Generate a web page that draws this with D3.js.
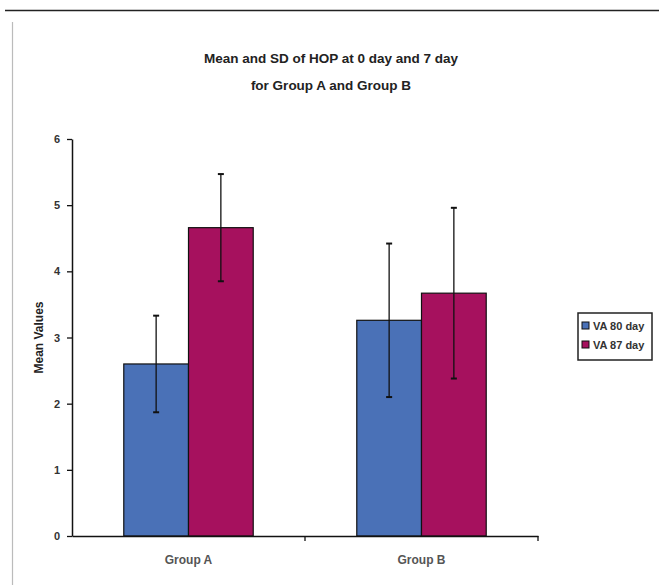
<!DOCTYPE html>
<html>
<head>
<meta charset="utf-8">
<script src="https://cdn.jsdelivr.net/npm/d3@7"></script>
<style>
  body { margin: 0; background: #fff; }
  svg { display: block; }
</style>
</head>
<body>
<div id="chart"></div>
<script>
const groups = ["Group A", "Group B"];
const series = ["VA 80 day", "VA 87 day"];
const means = [
  [2.6, 4.66],
  [3.26, 3.67],
];
const sds = [
  [0.73, 0.81],
  [1.16, 1.29],
];
const yTicks = [0, 1, 2, 3, 4, 5, 6];
const titleLines = ["Mean and SD of HOP at 0 day and 7 day", "for Group A and Group B"];
const colors = ["#4a71b7", "#a6115e"];

const width = 659;
const height = 585;
const margin = { top: 139, right: 121, bottom: 49, left: 72 };
const font = "'Liberation Sans', Arial, sans-serif";

const svg = d3
  .select("#chart")
  .append("svg")
  .attr("width", width)
  .attr("height", height);

// page frame lines
svg.append("line")
  .attr("x1", 5).attr("x2", width).attr("y1", 10.5).attr("y2", 10.5)
  .attr("stroke", "#222").attr("stroke-width", 1.3);
svg.append("line")
  .attr("x1", 12.5).attr("x2", 12.5).attr("y1", 22).attr("y2", height)
  .attr("stroke", "#bbb").attr("stroke-width", 1.2);

const x0 = d3.scaleBand()
  .domain(groups)
  .range([margin.left, width - margin.right])
  .paddingInner(0)
  .paddingOuter(0);

const x1 = d3.scaleBand()
  .domain(series)
  .range([0, x0.bandwidth()])
  .paddingInner(0)
  .paddingOuter(0.8);

const y = d3.scaleLinear()
  .domain([0, 6])
  .range([height - margin.bottom, margin.top]);

// title
svg.append("g")
  .selectAll("text")
  .data(titleLines)
  .join("text")
  .attr("x", 331)
  .attr("y", (d, i) => 63 + i * 27)
  .attr("text-anchor", "middle")
  .attr("font-family", font)
  .attr("font-weight", "bold")
  .attr("font-size", 13.5)
  .attr("fill", "#222")
  .text((d) => d);

// bars
const rows = [];
groups.forEach((g, gi) => {
  series.forEach((s, si) => {
    rows.push({ g, s, si, mean: means[gi][si], sd: sds[gi][si] });
  });
});

svg.append("g")
  .selectAll("rect")
  .data(rows)
  .join("rect")
  .attr("x", (d) => x0(d.g) + x1(d.s))
  .attr("y", (d) => y(d.mean))
  .attr("width", x1.bandwidth())
  .attr("height", (d) => y(0) - y(d.mean))
  .attr("fill", (d) => colors[d.si])
  .attr("stroke", "#111")
  .attr("stroke-width", 1.2);

// error bars
const err = svg.append("g")
  .selectAll("g")
  .data(rows)
  .join("g")
  .attr("stroke", "#111")
  .attr("stroke-width", 1.3);

const cx = (d) => x0(d.g) + x1(d.s) + x1.bandwidth() / 2;
err.append("line")
  .attr("x1", cx).attr("x2", cx)
  .attr("y1", (d) => y(d.mean + d.sd))
  .attr("y2", (d) => y(d.mean - d.sd));
err.append("line")
  .attr("x1", (d) => cx(d) - 3).attr("x2", (d) => cx(d) + 3)
  .attr("y1", (d) => y(d.mean + d.sd)).attr("y2", (d) => y(d.mean + d.sd))
  .attr("stroke-width", 2);
err.append("line")
  .attr("x1", (d) => cx(d) - 3).attr("x2", (d) => cx(d) + 3)
  .attr("y1", (d) => y(d.mean - d.sd)).attr("y2", (d) => y(d.mean - d.sd))
  .attr("stroke-width", 2);

// y axis
const yAxis = svg.append("g")
  .attr("transform", `translate(${margin.left},0)`)
  .call(d3.axisLeft(y).tickValues(yTicks).tickFormat(d3.format("d"))
    .tickSize(5).tickSizeOuter(0).tickPadding(7));
yAxis.select(".domain").attr("stroke", "#111").attr("stroke-width", 1.5);
yAxis.selectAll(".tick line").attr("stroke", "#111").attr("stroke-width", 1.3);
yAxis.selectAll("text")
  .attr("font-family", font)
  .attr("font-weight", "bold")
  .attr("font-size", 11)
  .attr("fill", "#333");

// x axis
const xAxis = svg.append("g")
  .attr("transform", `translate(0,${y(0)})`)
  .call(d3.axisBottom(x0).tickSize(0).tickSizeOuter(0).tickPadding(19));
xAxis.select(".domain").attr("stroke", "#111").attr("stroke-width", 1.5);
xAxis.selectAll("text")
  .attr("font-family", font)
  .attr("font-weight", "bold")
  .attr("font-size", 12)
  .attr("fill", "#555");
xAxis.selectAll(".boundary")
  .data(groups.slice(1).map((g) => x0(g)).concat([x0.range()[1]]))
  .join("line")
  .attr("class", "boundary")
  .attr("x1", (d) => d).attr("x2", (d) => d)
  .attr("y1", 0).attr("y2", 5)
  .attr("stroke", "#111").attr("stroke-width", 1.3);

// y label
svg.append("text")
  .attr("transform", `translate(43,${(y(0) + y(6)) / 2}) rotate(-90)`)
  .attr("text-anchor", "middle")
  .attr("font-family", font)
  .attr("font-weight", "bold")
  .attr("font-size", 12)
  .attr("fill", "#222")
  .text("Mean Values");

// legend
const legend = svg.append("g").attr("transform", "translate(578,313)");
legend.append("rect")
  .attr("width", 74).attr("height", 47)
  .attr("fill", "#fff").attr("stroke", "#222").attr("stroke-width", 1.5);
const li = legend.selectAll(".item")
  .data(series)
  .join("g")
  .attr("class", "item")
  .attr("transform", (d, i) => `translate(4,${9 + i * 19})`);
li.append("rect")
  .attr("width", 7).attr("height", 7)
  .attr("fill", (d, i) => colors[i])
  .attr("stroke", "#111");
li.append("text")
  .attr("x", 11).attr("y", 8)
  .attr("font-family", font)
  .attr("font-weight", "bold")
  .attr("font-size", 11)
  .attr("fill", "#333")
  .text((d) => d);
</script>
</body>
</html>
